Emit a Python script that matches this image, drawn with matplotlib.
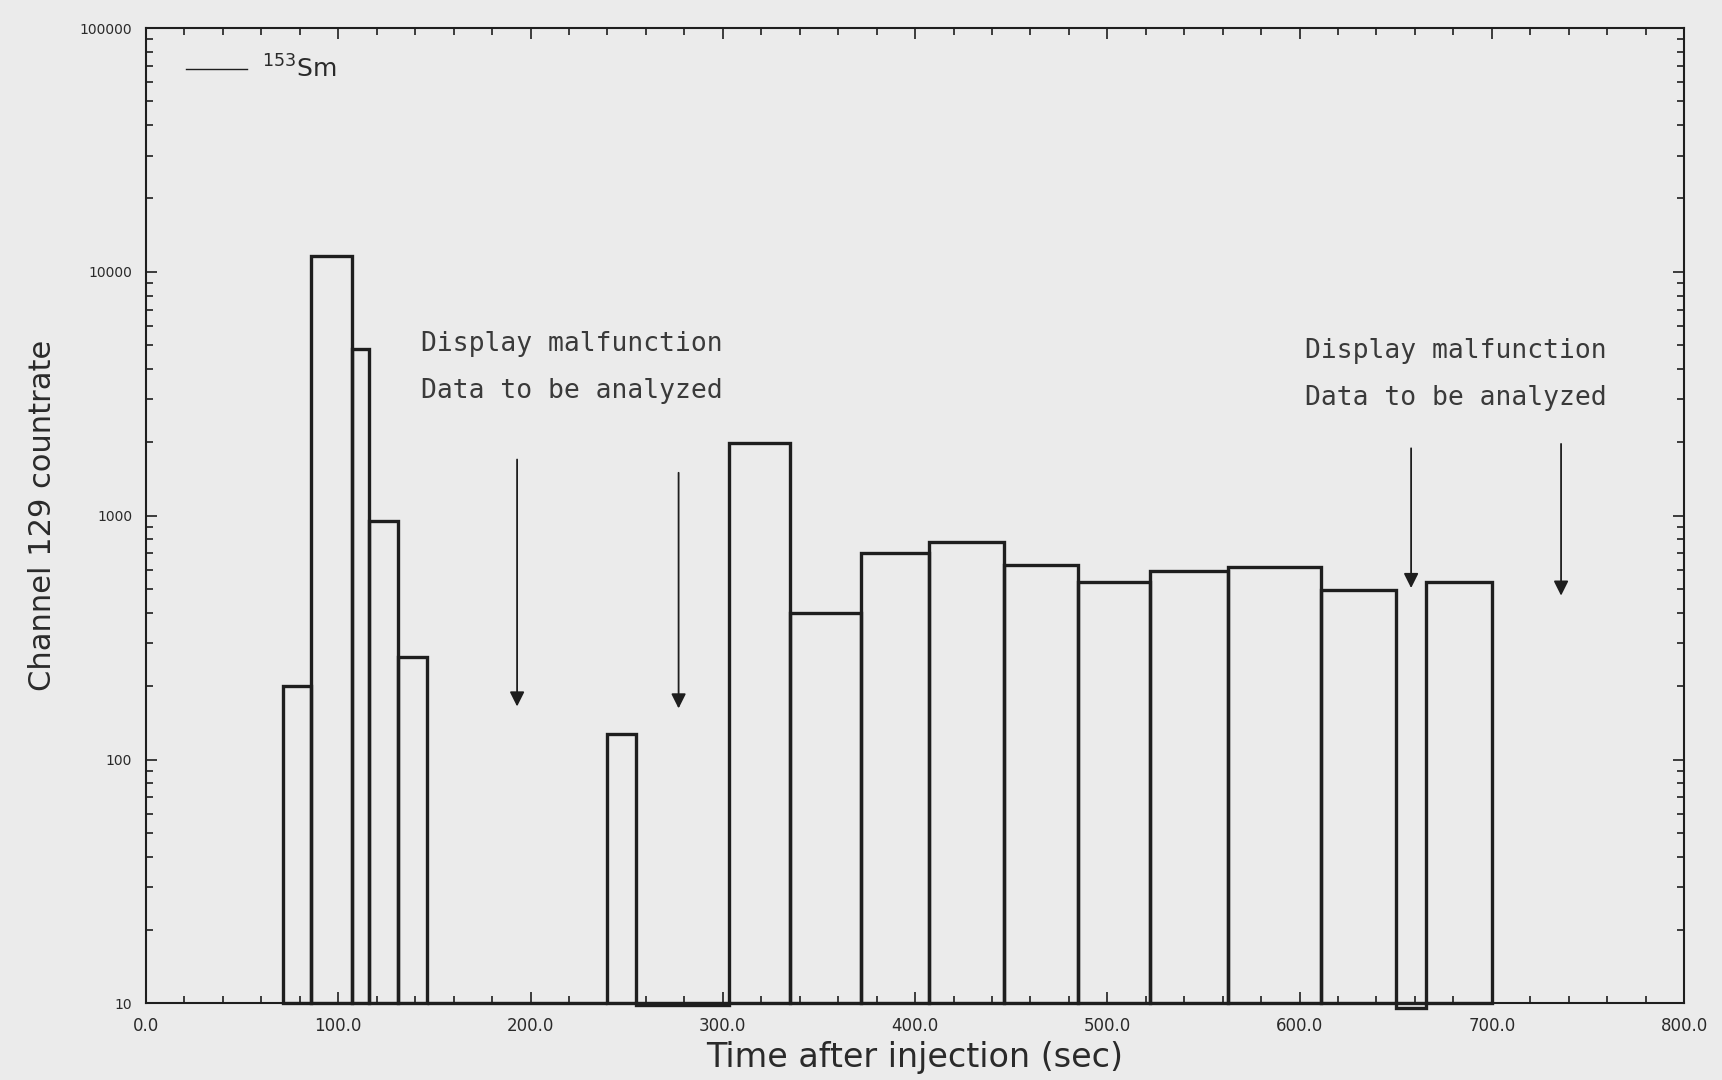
import matplotlib.pyplot as plt
import numpy as np
from matplotlib.ticker import FixedLocator, MultipleLocator, NullFormatter

# bin edges (sec) and channel 129 count rate per bin
edges = [71, 86, 107, 116, 131, 146, 240, 255, 303, 335, 372, 407, 446,
         485, 522, 563, 611, 650, 666, 700]
counts = [201, 11660, 4820, 954, 263, 10, 127, 9.8, 1995, 399, 706, 783,
          630, 533, 592, 617, 496, 9.6, 533]

# arrows marking the display malfunction intervals: x, top, tip
arrow_x = [193, 277, 658, 736]
arrow_top = [1700, 1500, 1890, 1970]
arrow_tip = [165, 162, 505, 470]

notes = ["Display malfunction", "Data to be analyzed"]
note_x = [143, 603]
note_y = [[5080, 3250], [4720, 3050]]

bg = '#ebebeb'
ink = '#1e1e1e'

fig = plt.figure(figsize=(17.22, 10.80), dpi=100, facecolor=bg)
ax = fig.add_axes([0.0848, 0.071, 0.8932, 0.903], facecolor=bg)

left = np.array(edges[:-1])
width = np.diff(edges)
heights = np.array(counts) - 10
ax.bar(left, heights, width=width, bottom=10, align='edge', fill=False,
       edgecolor=ink, linewidth=2.4, clip_on=False, zorder=3)

ax.set_yscale('log')
ax.set_xlim(0, 800)
ax.set_ylim(10, 100000)

# legend line for the isotope
ax.plot([], [], color=ink, lw=1.0, label=r'$^{153}$Sm')
ax.legend(loc='upper left', frameon=False, fontsize=18, handlelength=2.45,
          handletextpad=0.6, borderaxespad=0, bbox_to_anchor=(0.0195, 0.982),
          labelcolor='#2a2a2a')

for x, top, tip in zip(arrow_x, arrow_top, arrow_tip):
    ax.annotate('', xy=(x, tip), xytext=(x, top),
                arrowprops=dict(arrowstyle='-|>', lw=1.3, color=ink,
                                mutation_scale=22, shrinkA=0, shrinkB=0))

for x, ys in zip(note_x, note_y):
    for txt, y in zip(notes, ys):
        ax.text(x, y, txt, fontsize=19, family='DejaVu Sans Mono',
                color='#3a3a3a', va='center', ha='left')

# ticks: inward on all four sides
ax.xaxis.set_major_locator(MultipleLocator(100))
ax.xaxis.set_minor_locator(MultipleLocator(20))
ax.set_xticklabels([f'{v:.1f}' for v in ax.get_xticks()])
ax.yaxis.set_major_locator(FixedLocator([10, 100, 1000, 10000, 100000]))
ax.set_yticklabels(['10', '100', '1000', '10000', '100000'])
ax.yaxis.set_minor_formatter(NullFormatter())
ax.tick_params(which='both', direction='in', top=True, right=True,
               color=ink, width=1.2)
ax.tick_params(which='major', length=8, labelcolor='#2a2a2a', pad=10)
ax.tick_params(axis='x', which='major', labelsize=12)
ax.tick_params(axis='y', which='major', labelsize=10)
ax.tick_params(which='minor', length=5)
for s in ax.spines.values():
    s.set_color(ink)
    s.set_linewidth(1.5)

ax.set_xlabel('Time after injection (sec)', fontsize=24, color='#2a2a2a',
              labelpad=4)
ax.set_ylabel('Channel 129 countrate', fontsize=22, color='#2a2a2a',
              labelpad=16)

fig.savefig('out.png', dpi=100, facecolor=bg)
